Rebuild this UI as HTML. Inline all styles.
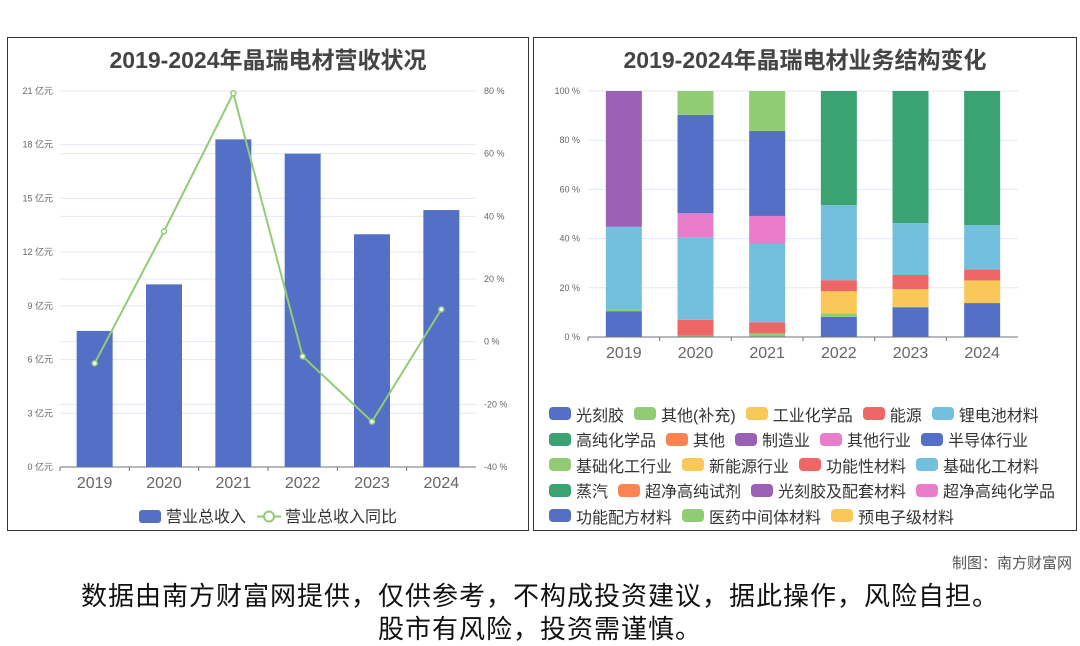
<!DOCTYPE html>
<html><head><meta charset="utf-8">
<style>
body{margin:0;width:1080px;height:646px;background:#fff;font-family:"Liberation Sans","Noto Sans CJK SC",sans-serif;position:relative;overflow:hidden}
.panel{position:absolute;border:1px solid #333;box-sizing:border-box}
.title{position:absolute;left:0;right:0;top:3px;text-align:center;font-size:23px;font-weight:bold;color:#444}
svg{position:absolute;left:0;top:0}
#legend2{position:absolute;left:549px;top:404px;width:525px;display:flex;flex-wrap:wrap;column-gap:10px;row-gap:6.5px;font-size:16px;color:#333}
.li{display:flex;align-items:center;height:19px}
.sw{width:22px;height:13px;border-radius:4px;margin-right:5px}
</style></head><body>
<div class="panel" style="left:7px;top:37px;width:522px;height:494px">
<div class="title">2019-2024年晶瑞电材营收状况</div></div>
<div class="panel" style="left:533px;top:37px;width:544px;height:494px">
<div class="title">2019-2024年晶瑞电材业务结构变化</div></div>
<svg id="chart" width="1080" height="646"></svg>
<div id="legend2"></div>
<div style="position:absolute;right:8px;top:552px;font-size:15px;color:#555">制图：南方财富网</div>
<div style="position:absolute;left:0;right:0;top:580px;text-align:center;font-size:26px;letter-spacing:1px;line-height:33px;color:#111">数据由南方财富网提供，仅供参考，不构成投资建议，据此操作，风险自担。<br>股市有风险，投资需谨慎。</div>
<script>
const years=["2019","2020","2021","2022","2023","2024"];
const revenue=[7.6,10.2,18.3,17.5,13.0,14.35];
const growth=[-6.9,35.2,79.3,-4.7,-25.5,10.3];
const leftTicks=[0,3,6,9,12,15,18,21];
const rightTicks=[-40,-20,0,20,40,60,80];
const pctTicks=[0,20,40,60,80,100];
const seriesNames=["光刻胶","其他(补充)","工业化学品","能源","锂电池材料","高纯化学品","其他","制造业","其他行业","半导体行业","基础化工行业","新能源行业","功能性材料","基础化工材料","蒸汽","超净高纯试剂","光刻胶及配套材料","超净高纯化学品","功能配方材料","医药中间体材料","预电子级材料"];
const seriesColors=["#5470c6","#91cc75","#fac858","#ee6666","#73c0de","#3ba272","#fc8452","#9a60b4","#ea7ccc","#5470c6","#91cc75","#fac858","#ee6666","#73c0de","#3ba272","#fc8452","#9a60b4","#ea7ccc","#5470c6","#91cc75","#fac858"];
const s0=[10.5,0,0,8.2,12,13.8];
const s1=[0.5,0.5,1.5,1.4,0.3,0];
const s2=[0,0,0,9,7.2,9.2];
const s3=[0,6.5,4.5,4.5,5.7,4.5];
const s4=[33.8,33.5,31.8,30.5,21.1,18];
const s5=[0,0,0,46.4,53.7,54.5];
const s7=[55.2,0,0,0,0,0];
const s8=[0,9.8,11.4,0,0,0];
const s9=[0,40,34.6,0,0,0];
const s10=[0,9.7,16.2,0,0,0];
const stackOrder=[[0,s0],[1,s1],[2,s2],[3,s3],[4,s4],[5,s5],[7,s7],[8,s8],[9,s9],[10,s10]];

const NS="http://www.w3.org/2000/svg";
const svg=document.getElementById('chart');
function mk(t,a,txt){const e=document.createElementNS(NS,t);for(const k in a)e.setAttribute(k,a[k]);if(txt!==undefined)e.textContent=txt;svg.appendChild(e);return e;}
const L={x0:60,x1:476,yTop:91,yBot:467};
const yL=v=>L.yBot-(v/21)*(L.yBot-L.yTop);
const yR=v=>L.yBot-((v+40)/120)*(L.yBot-L.yTop);
const bw=(L.x1-L.x0)/years.length;
const xC=i=>L.x0+bw*(i+0.5);
leftTicks.forEach(t=>{
 let g=mk('line',{x1:L.x0,x2:L.x1,y1:yL(t),y2:yL(t),stroke:'#e3e7f3','stroke-width':1});
 
 let e=mk('text',{x:53,y:yL(t)+3,'text-anchor':'end','font-size':9,fill:'#666'},t+' 亿元');
 
});
rightTicks.forEach(t=>{
 let g=mk('line',{x1:L.x0,x2:L.x1,y1:yR(t),y2:yR(t),stroke:'#e3e7f3','stroke-width':1});
 
 let e=mk('text',{x:484,y:yR(t)+3,'font-size':9,fill:'#666'},t+' %');
 
});
mk('line',{x1:L.x0,x2:L.x1,y1:L.yBot,y2:L.yBot,stroke:'#6e7079'});
years.forEach((y,i)=>{
 const v=revenue[i];
 let r=mk('rect',{x:xC(i)-18,y:yL(v),width:36,height:L.yBot-yL(v),fill:'#5470c6'});
 
 let t=mk('text',{x:xC(i),y:488,'text-anchor':'middle','font-size':16,fill:'#666'},y);
 
 mk('line',{x1:L.x0+bw*i,x2:L.x0+bw*i,y1:L.yBot,y2:L.yBot+4,stroke:'#6e7079'});
});
let pts=growth.map((g,i)=>xC(i)+','+yR(g)).join(' ');
let pl=mk('polyline',{points:pts,fill:'none',stroke:'#91cc75','stroke-width':2});

growth.forEach((g,i)=>{let c=mk('circle',{cx:xC(i),cy:yR(g),r:2.5,fill:'#fff',stroke:'#91cc75','stroke-width':1.5});
 });
let lr=mk('rect',{x:139,y:510,width:22,height:13,rx:3,fill:'#5470c6'});

let lt=mk('text',{x:166,y:522,'font-size':16,fill:'#333'},'营业总收入');

mk('line',{x1:257,x2:281,y1:516.5,y2:516.5,stroke:'#91cc75','stroke-width':2});
mk('circle',{cx:269,cy:516.5,r:5,fill:'#fff',stroke:'#91cc75','stroke-width':2});
let lt2=mk('text',{x:285,y:522,'font-size':16,fill:'#333'},'营业总收入同比');

const R={x0:588,x1:1018,yTop:91,yBot:337};
const yP=v=>R.yBot-(v/100)*(R.yBot-R.yTop);
const bw2=(R.x1-R.x0)/years.length;
const xC2=i=>R.x0+bw2*(i+0.5);
pctTicks.forEach(t=>{
 let g=mk('line',{x1:R.x0,x2:R.x1,y1:yP(t),y2:yP(t),stroke:'#e3e7f3'});
 
 let e=mk('text',{x:580,y:yP(t)+3,'text-anchor':'end','font-size':9,fill:'#666'},t+' %');
 
});
years.forEach((y,i)=>{
 let acc=0;
 stackOrder.forEach(([ci,arr])=>{
  const v=arr[i];if(v<=0)return;
  let r=mk('rect',{x:xC2(i)-18,y:yP(acc+v),width:36,height:yP(acc)-yP(acc+v),fill:seriesColors[ci]});
  
  acc+=v;
 });
 let t=mk('text',{x:xC2(i),y:358,'text-anchor':'middle','font-size':16,fill:'#666'},y);
 
 mk('line',{x1:R.x0+bw2*i,x2:R.x0+bw2*i,y1:R.yBot,y2:R.yBot+4,stroke:'#6e7079'});
});
mk('line',{x1:R.x0,x2:R.x1,y1:R.yBot,y2:R.yBot,stroke:'#6e7079'});
const lg=document.getElementById('legend2');
seriesNames.forEach((n,i)=>{
 const d=document.createElement('div');d.className='li';
 
 
 d.innerHTML='<span class="sw" style="background:'+seriesColors[i]+'"></span>'+n;
 lg.appendChild(d);
});
</script>
</body></html>
